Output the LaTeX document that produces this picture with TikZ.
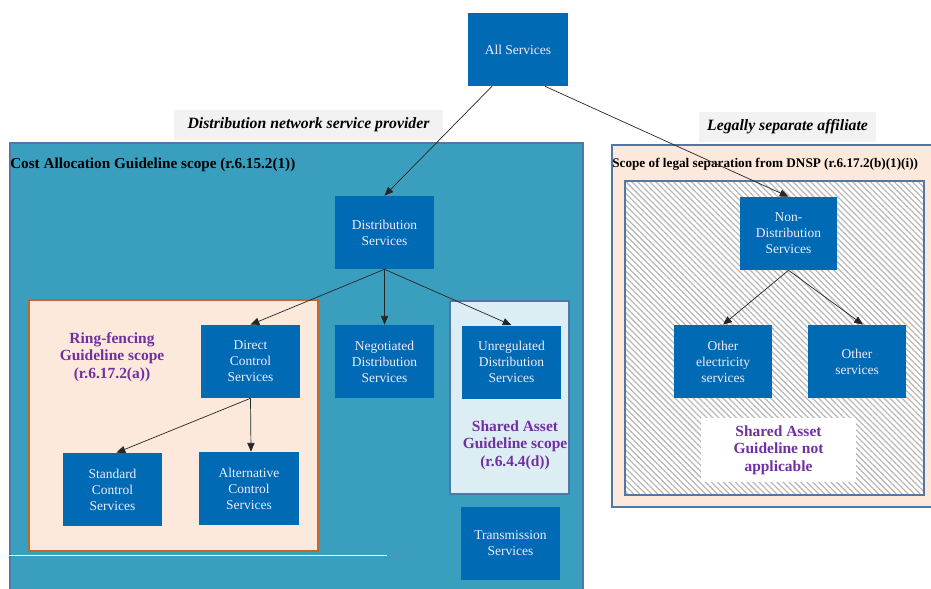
\documentclass[tikz,border=0pt]{standalone}
\usepackage{fontspec}
\setmainfont{Liberation Serif}
\usetikzlibrary{arrows.meta,positioning,patterns.meta}
\definecolor{svcblue}{RGB}{0,106,180}
\definecolor{cagteal}{RGB}{58,159,191}
\definecolor{peach}{RGB}{252,233,220}
\definecolor{iceblue}{RGB}{220,237,243}
\definecolor{frameblue}{RGB}{79,120,166}
\definecolor{rustedge}{RGB}{192,104,44}
\definecolor{scopepurple}{RGB}{112,48,160}
\definecolor{tagtint}{RGB}{242,242,242}

\begin{document}
\begin{tikzpicture}[x=0.025cm, y=-0.025cm,
  svc/.style={fill=svcblue, text=white!93!blue, align=center, font=\fontsize{9.6}{11.4}\selectfont,
              minimum width=2.475cm, minimum height=1.825cm, inner sep=2pt},
  region/.style={draw=frameblue, line width=0.9pt, fill=#1},
  region/.default=white,
  arr/.style={-{Triangle[length=2.2mm, width=1.8mm]}, draw=black!85, line width=0.5pt},
  tag/.style={fill=tagtint, font=\bfseries\itshape\fontsize{11.2}{13}\selectfont,
              minimum height=0.75cm, inner sep=3pt},
  scopelbl/.style={text=scopepurple, font=\bfseries\fontsize{11}{12.6}\selectfont, align=center},
  regtitle/.style={font=\bfseries\fontsize{10.8}{12}\selectfont, anchor=west, inner sep=0pt}]
\useasboundingbox (0,0) rectangle (931,588);

% scope regions
\node[region=cagteal, minimum width=14.325cm, minimum height=11.175cm] (cag) at (296.5,366.5) {};
\node[region=peach, draw=rustedge, minimum width=7.225cm, minimum height=6.275cm] (ring) at (173.5,425.5) {};
\node[region=iceblue, minimum width=2.975cm, minimum height=4.825cm] (sag) at (509.5,397.5) {};
\node[region=peach, minimum width=8.025cm, minimum height=9.05cm] (lsa) at (772.5,326) {};
\node[region, preaction={fill=white}, pattern={Lines[angle=-45, distance=3pt, line width=0.9pt]},
      pattern color=gray!55, minimum width=7.475cm, minimum height=7.85cm] (hatch) at (774.5,338) {};
\draw[white, line width=0.6pt] (cag.west |- 0,555) -- (387,555);

% titles and tags
\node[regtitle] (cagtitle) at (10,165) {Cost Allocation Guideline scope (r.6.15.2(1))};
\node[regtitle, font=\bfseries\fontsize{9.4}{11}\selectfont] (lsatitle) at (612,164) {Scope of legal separation from DNSP (r.6.17.2(b)(1)(i))};
\node[tag, minimum width=6.725cm] (dnsptag) at (308.5,125) {Distribution network service provider};
\node[tag, minimum width=4.425cm] (lsatag) at (787.5,127) {Legally separate affiliate};
\node[scopelbl] (ringlbl) at (112,357) {Ring-fencing\\Guideline scope\\(r.6.17.2(a))};
\node[scopelbl] (saglbl) at (515,445) {Shared Asset\\Guideline scope\\(r.6.4.4(d))};
\node[scopelbl, fill=white, minimum width=3.875cm, minimum height=1.6cm] (nalbl) at (778.5,450) {Shared Asset\\Guideline not\\applicable};

% services
\node[svc] (all) at (518,49.5) {All Services};
\node[svc] (dist) at (384.5,232.5) {Distribution\\Services};
\node[svc] (direct) at (250.5,361.5) {Direct\\Control\\Services};
\node[svc] (std) at (112.5,489.5) {Standard\\Control\\Services};
\node[svc] (alt) at (249,488.5) {Alternative\\Control\\Services};
\node[svc] (nego) at (384.5,361.5) {Negotiated\\Distribution\\Services};
\node[svc] (unreg) at (511.5,362) {Unregulated\\Distribution\\Services};
\node[svc] (trans) at (510.5,543.5) {Transmission\\Services};
\node[svc, minimum width=2.425cm] (nondist) at (788.5,233.5) {Non-\\Distribution\\Services};
\node[svc, minimum width=2.45cm] (otherelec) at (723,361.5) {Other\\electricity\\services};
\node[svc, minimum width=2.45cm] (other) at (857,361.5) {Other\\services};

% connectors
\draw[arr] ([xshift=-0.65cm]all.south) -- (dist.north);
\draw[arr] ([xshift=0.675cm]all.south) -- (nondist.north);
\draw[arr] (dist.south) -- (direct.north);
\draw[arr] (dist.south) -- (nego.north);
\draw[arr] (dist.south) -- (unreg.north);
\draw[arr] (direct.south) -- ([xshift=0.1cm]std.north);
\draw[arr] (direct.south) -- ([xshift=0.05cm]alt.north);
\draw[arr] (nondist.south) -- (otherelec.north);
\draw[arr] (nondist.south) -- ([xshift=0.15cm]other.north);
\end{tikzpicture}
\end{document}
